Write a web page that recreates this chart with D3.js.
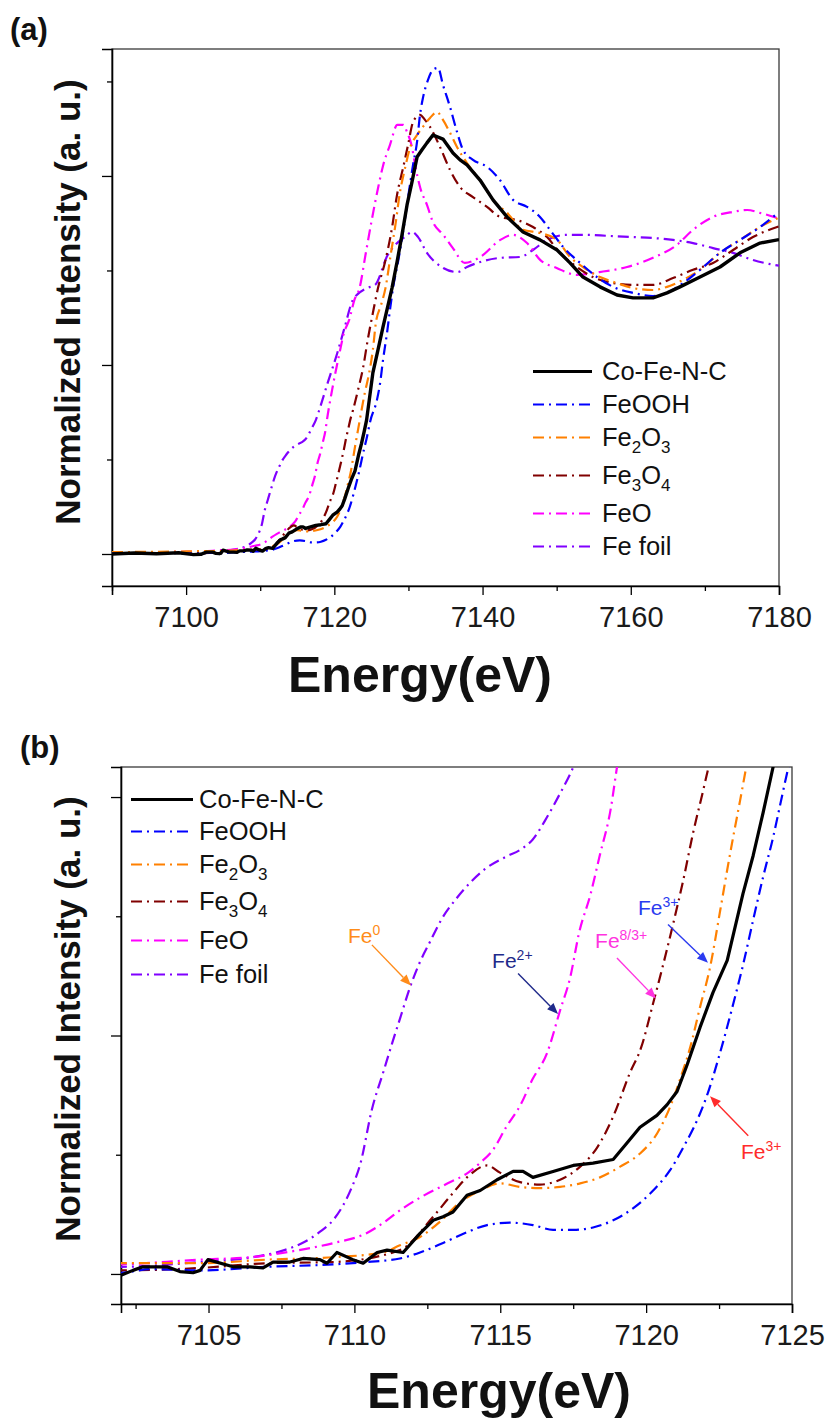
<!DOCTYPE html>
<html>
<head>
<meta charset="utf-8">
<script src="https://cdn.jsdelivr.net/npm/d3@7"></script>
<style>
  html, body { margin: 0; padding: 0; background: #fff; }
  svg { display: block; font-family: "Liberation Sans", Arial, Helvetica, sans-serif; }
</style>
</head>
<body>
<svg id="fig" width="831" height="1420"></svg>
<script>
// ---------- Fe K-edge XANES spectra: [energy (eV), normalized intensity] ----------
const coFeNC = [
  [7090,0.000],[7093,0.003],[7096,0.001],[7099,0.004],[7101,-0.002],
  [7102.00,-0.001],[7102.41,0.003],[7102.75,0.006],[7103.58,0.006],[7104.02,0.002],[7104.47,0.001],
  [7104.71,0.003],[7104.98,0.012],[7105.84,0.006],[7106.42,0.006],[7106.87,0.005],[7107.21,0.010],
  [7107.79,0.010],[7108.24,0.013],[7108.82,0.012],[7109.06,0.009],[7109.40,0.018],[7109.95,0.012],
  [7110.30,0.009],[7110.78,0.018],[7111.12,0.020],[7111.67,0.018],[7112.25,0.034],[7112.70,0.045],
  [7113.04,0.048],[7113.38,0.052],[7113.86,0.066],[7114.31,0.070],[7114.89,0.079],[7115.44,0.086],
  [7115.78,0.086],[7116.12,0.081],[7116.81,0.086],[7117.50,0.091],[7118.18,0.093],[7118.87,0.096],
  [7119.35,0.110],[7119.79,0.123],[7120.37,0.133],[7120.72,0.142],[7121.06,0.153],[7121.40,0.175],
  [7121.85,0.207],[7122.29,0.236],[7122.78,0.263],[7123.32,0.319],[7123.67,0.351],[7124.01,0.387],
  [7124.35,0.425],[7125.20,0.575],[7125.89,0.648],[7126.57,0.721],[7127.78,0.844],[7128.46,0.927],
  [7129.13,1.013],[7129.81,1.108],[7130.48,1.181],[7131.16,1.260],[7131.83,1.283],[7132.50,1.305],
  [7133.31,1.330],[7134.66,1.317],[7136.01,1.273],[7136.96,1.251],[7137.90,1.235],[7139.66,1.187],
  [7141.41,1.124],[7143.30,1.070],[7145.46,1.022],[7147.75,0.997],[7150.05,0.965],[7151.80,0.924],
  [7153.55,0.879],[7155.85,0.848],[7158.14,0.822],[7160.30,0.813],[7163.00,0.813],[7164.89,0.829],
  [7166.64,0.848],[7169.34,0.879],[7172.04,0.911],[7174.74,0.956],[7177.44,0.987],[7180.00,0.998]
];

const feOOH = [
  [7090,0.002],[7096,0.003],[7100,0.002],
  [7102.00,0.001],[7102.99,0.004],[7104.71,0.003],[7107.00,0.006],[7109.27,0.008],[7110.43,0.010],
  [7111.56,0.013],[7112.25,0.018],[7113.04,0.026],[7113.86,0.035],[7114.55,0.041],[7115.34,0.043],
  [7116.12,0.041],[7116.81,0.037],[7117.50,0.037],[7118.18,0.039],[7118.87,0.045],[7119.55,0.055],
  [7120.24,0.070],[7120.82,0.087],[7121.27,0.106],[7121.75,0.129],[7122.09,0.150],[7122.54,0.186],
  [7122.98,0.226],[7123.32,0.259],[7123.67,0.297],[7124.01,0.333],[7124.35,0.366],[7124.59,0.393],
  [7124.83,0.420],[7125.76,0.490],[7126.16,0.540],[7126.57,0.616],[7127.11,0.702],[7127.51,0.775],
  [7127.92,0.844],[7128.59,0.927],[7129.27,1.022],[7129.94,1.130],[7130.62,1.235],[7131.16,1.308],
  [7131.56,1.394],[7131.96,1.448],[7132.64,1.505],[7133.31,1.537],[7133.99,1.543],[7134.66,1.489],
  [7135.61,1.419],[7136.55,1.340],[7137.36,1.283],[7138.71,1.251],[7140.60,1.229],[7142.35,1.187],
  [7144.11,1.124],[7146.00,1.102],[7147.75,1.070],[7149.10,1.029],[7150.86,0.975],[7153.15,0.924],
  [7155.44,0.879],[7157.60,0.848],[7160.30,0.829],[7163.00,0.819],[7164.89,0.829],[7167.05,0.860],
  [7169.34,0.902],[7172.04,0.956],[7174.74,0.997],[7177.44,1.038],[7180.00,1.085]
];

const fe2O3 = [
  [7090,0.006],[7096,0.007],[7100,0.008],
  [7102.00,0.009],[7104.71,0.009],[7107.00,0.012],[7109.27,0.014],[7110.98,0.018],[7111.56,0.024],
  [7112.25,0.031],[7112.94,0.044],[7113.62,0.060],[7114.31,0.070],[7114.99,0.076],[7115.68,0.073],
  [7116.36,0.072],[7117.05,0.073],[7117.74,0.076],[7118.42,0.081],[7119.11,0.090],[7119.79,0.101],
  [7120.38,0.118],[7120.82,0.140],[7121.16,0.163],[7121.51,0.190],[7121.85,0.224],[7122.19,0.257],
  [7122.54,0.305],[7122.78,0.339],[7122.98,0.366],[7123.22,0.397],[7123.43,0.425],[7124.10,0.510],
  [7124.70,0.575],[7125.20,0.648],[7125.60,0.733],[7126.30,0.790],[7126.90,0.844],[7127.60,0.949],
  [7128.30,1.054],[7128.80,1.140],[7129.54,1.225],[7130.21,1.289],[7131.16,1.330],[7131.96,1.356],
  [7132.91,1.384],[7133.85,1.403],[7134.66,1.378],[7135.61,1.337],[7136.55,1.292],[7137.90,1.241],
  [7139.66,1.187],[7141.41,1.124],[7143.30,1.083],[7145.46,1.029],[7147.75,1.019],[7150.05,0.997],
  [7151.80,0.943],[7153.55,0.911],[7155.85,0.879],[7158.14,0.860],[7160.30,0.844],[7163.00,0.838],
  [7164.89,0.848],[7167.05,0.870],[7169.34,0.902],[7172.04,0.956],[7174.74,0.997],[7177.44,1.038],
  [7180.00,1.068]
];

const fe3O4 = [
  [7090,0.003],[7096,0.004],[7100,0.003],
  [7102.00,0.003],[7104.71,0.005],[7107.00,0.009],[7109.27,0.010],[7111.56,0.020],[7112.70,0.048],
  [7113.28,0.065],[7113.86,0.081],[7114.55,0.091],[7114.99,0.085],[7115.68,0.077],[7116.36,0.075],
  [7117.05,0.079],[7117.74,0.090],[7118.32,0.106],[7118.87,0.132],[7119.45,0.169],[7119.83,0.190],
  [7120.24,0.227],[7120.58,0.259],[7120.92,0.293],[7121.27,0.330],[7121.61,0.370],[7121.95,0.405],
  [7122.12,0.423],[7122.50,0.455],[7123.20,0.521],[7123.90,0.594],[7124.50,0.679],[7125.20,0.765],
  [7125.89,0.844],[7126.84,0.927],[7127.78,1.035],[7128.46,1.140],[7129.27,1.225],[7129.94,1.298],
  [7130.62,1.371],[7131.56,1.394],[7132.23,1.378],[7132.91,1.356],[7134.26,1.292],[7135.61,1.219],
  [7136.96,1.165],[7138.71,1.133],[7140.60,1.102],[7142.35,1.070],[7144.65,1.060],[7146.81,1.038],
  [7148.70,1.006],[7150.45,0.956],[7152.74,0.911],[7154.90,0.879],[7157.60,0.860],[7160.30,0.854],
  [7163.00,0.854],[7165.70,0.876],[7168.40,0.902],[7171.10,0.924],[7173.80,0.965],[7176.49,1.006],
  [7180.00,1.040]
];

const feO = [
  [7090,0.004],[7096,0.006],[7100,0.007],
  [7102.0,0.008],[7104.7,0.012],[7106.4,0.014],[7108.1,0.020],[7109.3,0.026],[7110.4,0.034],
  [7111.0,0.043],[7111.6,0.054],[7112.25,0.064],[7113.2,0.076],[7113.9,0.085],[7114.3,0.093],
  [7114.75,0.104],[7115.2,0.123],[7115.7,0.142],[7116.1,0.163],[7116.6,0.185],[7117.05,0.221],
  [7117.4,0.249],[7117.7,0.286],[7118.1,0.319],[7118.4,0.350],[7118.8,0.392],[7119.0,0.425],
  [7119.7,0.521],[7120.7,0.638],[7121.3,0.702],[7122.0,0.743],[7122.7,0.806],[7123.4,0.844],
  [7124.2,0.949],[7125.0,1.054],[7125.9,1.162],[7126.6,1.235],[7127.5,1.298],[7128.5,1.362],
  [7129.3,1.362],[7129.8,1.340],[7130.5,1.289],[7130.9,1.235],[7131.6,1.162],[7132.5,1.108],
  [7133.3,1.054],[7134.7,1.013],[7136.0,0.971],[7137.6,0.924],[7139.7,0.943],[7142.4,0.997],
  [7144.1,1.013],[7146.0,0.987],[7147.8,0.933],[7150.0,0.908],[7152.7,0.886],[7155.8,0.895],
  [7159.5,0.911],[7163.0,0.940],[7166.2,0.981],[7168.4,1.029],[7171.1,1.070],[7173.8,1.086],
  [7175.7,1.092],[7177.4,1.083],[7180.0,1.065]
];

const feFoil = [
  [7090,0.004],[7096,0.005],[7100,0.006],
  [7102.0,0.006],[7104.7,0.010],[7106.5,0.014],[7107.6,0.020],[7108.3,0.027],[7108.8,0.035],
  [7109.3,0.046],[7109.6,0.057],[7109.9,0.072],[7110.2,0.092],[7110.6,0.138],[7111.0,0.170],
  [7111.3,0.194],[7111.6,0.217],[7111.9,0.240],[7112.2,0.259],[7112.6,0.279],[7113.0,0.298],
  [7113.5,0.315],[7114.0,0.329],[7114.5,0.340],[7115.2,0.350],[7115.7,0.356],[7116.1,0.364],
  [7116.6,0.383],[7117.05,0.403],[7117.5,0.425],[7118.1,0.467],[7119.1,0.543],[7120.4,0.638],
  [7121.4,0.720],[7122.5,0.806],[7124.4,0.844],[7125.5,0.854],[7127.2,0.949],[7128.2,0.981],
  [7129.5,1.006],[7130.5,1.022],[7131.3,1.006],[7132.5,0.956],[7134.7,0.908],[7136.6,0.895],
  [7137.9,0.911],[7139.7,0.927],[7142.4,0.940],[7145.1,0.943],[7146.8,0.965],[7148.7,0.997],
  [7151.4,1.013],[7154.1,1.013],[7156.8,1.010],[7160.3,1.006],[7163.0,1.003],[7165.7,0.997],
  [7168.4,0.987],[7171.1,0.971],[7173.8,0.956],[7176.5,0.933],[7180.0,0.915]
];

// ---------- series, legend labels (subscripts flagged with 1), colours ----------
const seriesData   = [coFeNC, feOOH, fe2O3, fe3O4, feO, feFoil];
const seriesLabels = [
  [["Co-Fe-N-C",0]],
  [["FeOOH",0]],
  [["Fe",0],["2",1],["O",0],["3",1]],
  [["Fe",0],["3",1],["O",0],["4",1]],
  [["FeO",0]],
  [["Fe foil",0]]
];
const seriesColors = ["#000000", "#0000FF", "#FF8000", "#800000", "#FF00FF", "#8000FF"];

// ---------- axis ticks ----------
const xMajorA = [7100, 7120, 7140, 7160, 7180];
const xMinorA = [7090, 7110, 7130, 7150, 7170];
const yMajorA = [0, 0.6, 1.2];
const yMinorA = [0.3, 0.9, 1.5];
const xMajorB = [7105, 7110, 7115, 7120, 7125];
const xMinorB = [7102.5, 7107.5, 7112.5, 7117.5, 7122.5];
const yMajorB = [0, 0.2, 0.4];
const yMinorB = [0.1, 0.3];

// ---------- oxidation-state callouts on the pre-edge panel ----------
const calloutText  = ["Fe", "Fe", "Fe", "Fe", "Fe"];
const calloutSup   = ["0", "2+", "8/3+", "3+", "3+"];
const calloutColor = ["#FF8C1A", "#1F2A8A", "#FF33E0", "#2B3BF0", "#FF2B2B"];
const calloutAt    = [[7109.78,0.278],[7114.72,0.257],[7118.25,0.273],[7119.72,0.301],[7123.25,0.096]];
const calloutFrom  = [[7110.60,0.276],[7115.61,0.252],[7119.00,0.265],[7120.75,0.293],[7123.50,0.116]];
const calloutTo    = [[7111.94,0.242],[7116.98,0.218],[7120.34,0.231],[7122.12,0.261],[7122.19,0.149]];

// ---------- figure ----------
const svg = d3.select("#fig");
const DASH = "11,5,2,5";

function drawPanel(p) {
  const g = svg.append("g");
  const [x0, x1] = p.x.range();
  const [yb, yt] = p.y.range();

  // clip region for the spectra
  const clipId = "clip-" + p.id;
  svg.append("defs").append("clipPath").attr("id", clipId)
    .append("rect").attr("x", x0).attr("y", yt).attr("width", x1 - x0).attr("height", yb - yt);

  // frame
  g.append("rect").attr("x", x0).attr("y", yt).attr("width", x1 - x0).attr("height", yb - yt)
    .attr("fill", "none").attr("stroke", "#3a3a3a").attr("stroke-width", 1.3);

  // x axis: minor then major (labelled) ticks
  g.append("g").attr("transform", `translate(0,${yb})`)
    .call(d3.axisBottom(p.x).tickValues(p.xMinor).tickSize(5).tickFormat(""))
    .call(s => s.select(".domain").remove());
  const xa = g.append("g").attr("transform", `translate(0,${yb})`)
    .call(d3.axisBottom(p.x).tickValues(p.xMajor).tickSize(9).tickPadding(11).tickFormat(d3.format("d")));
  xa.select(".domain").attr("stroke-width", 1.6);
  xa.selectAll("text").attr("font-size", 29).attr("fill", "#1a1a1a")
    .attr("font-family", "'Liberation Sans', Arial, sans-serif");
  g.selectAll(".tick line").attr("stroke-width", 1.3);

  // y axis (unlabelled ticks)
  g.append("g").attr("transform", `translate(${x0},0)`)
    .call(d3.axisLeft(p.y).tickValues(p.yMinor).tickSize(5).tickFormat(""))
    .call(s => s.select(".domain").remove());
  const ya = g.append("g").attr("transform", `translate(${x0},0)`)
    .call(d3.axisLeft(p.y).tickValues(p.yMajor).tickSize(10).tickFormat(""));
  ya.select(".domain").attr("stroke-width", 1.6);
  g.selectAll(".tick line").attr("stroke-width", 1.3);

  // spectra: references first, sample on top
  const line = d3.line().x(d => p.x(d[0])).y(d => p.y(d[1]));
  const curves = g.append("g").attr("clip-path", `url(#${clipId})`);
  const order = [5, 4, 3, 2, 1, 0];
  order.forEach(i => {
    curves.append("path")
      .datum(seriesData[i])
      .attr("d", line.curve(i === 0 ? d3.curveLinear : d3.curveMonotoneX))
      .attr("fill", "none")
      .attr("stroke", seriesColors[i])
      .attr("stroke-width", i === 0 ? p.sampleWidth : 2.2)
      .attr("stroke-dasharray", i === 0 ? null : DASH)
      .attr("stroke-linejoin", "round");
  });

  // legend
  const lg = g.append("g");
  seriesLabels.forEach((parts, i) => {
    const base = p.legend.baselines[i];
    lg.append("line")
      .attr("x1", p.legend.x1).attr("x2", p.legend.x2)
      .attr("y1", base - 8.5).attr("y2", base - 8.5)
      .attr("stroke", seriesColors[i])
      .attr("stroke-width", i === 0 ? 3.2 : 2.2)
      .attr("stroke-dasharray", i === 0 ? null : DASH);
    const t = lg.append("text").attr("x", p.legend.tx).attr("y", base)
      .attr("font-size", 25.5).attr("fill", "#111");
    let shifted = false;
    parts.forEach(([s, sub]) => {
      const ts = t.append("tspan").text(s);
      if (sub && !shifted) { ts.attr("dy", 7).attr("font-size", 17); shifted = true; }
      else if (sub) { ts.attr("font-size", 17); }
      else if (shifted) { ts.attr("dy", -7); shifted = false; }
    });
  });

  // axis titles and panel tag
  g.append("text").attr("x", p.xTitle[0]).attr("y", p.xTitle[1])
    .attr("text-anchor", "middle").attr("font-size", 50).attr("font-weight", "bold")
    .attr("fill", "#111").text("Energy(eV)");
  g.append("text")
    .attr("transform", `translate(${p.yTitle[0]},${p.yTitle[1]}) rotate(-90)`)
    .attr("text-anchor", "middle").attr("font-size", 35).attr("font-weight", "bold")
    .attr("fill", "#111").text("Normalized Intensity (a. u.)");
  g.append("text").attr("x", p.tag[0]).attr("y", p.tag[1])
    .attr("font-size", 31).attr("font-weight", "bold").attr("fill", "#111").text(p.tagText);

  return g;
}

const xA = d3.scaleLinear().domain([7090, 7180]).range([112, 779]);
const yA = d3.scaleLinear().domain([-0.1016, 1.603]).range([586, 49]);
const xB = d3.scaleLinear().domain([7102, 7125]).range([121, 792]);
const yB = d3.scaleLinear().domain([-0.0252, 0.4252]).range([1304, 767]);

drawPanel({
  id: "a", x: xA, y: yA, xMajor: xMajorA, xMinor: xMinorA, yMajor: yMajorA, yMinor: yMinorA,
  sampleWidth: 3.4,
  legend: { x1: 533, x2: 592, tx: 602, baselines: [380, 413, 446, 484, 522, 555] },
  xTitle: [420, 692], yTitle: [80, 302], tag: [10, 40], tagText: "(a)"
});

const gB = drawPanel({
  id: "b", x: xB, y: yB, xMajor: xMajorB, xMinor: xMinorB, yMajor: yMajorB, yMinor: yMinorB,
  sampleWidth: 3.2,
  legend: { x1: 131, x2: 193, tx: 199, baselines: [808, 840, 873, 910, 949, 983] },
  xTitle: [499, 1408], yTitle: [80, 1019], tag: [20, 758], tagText: "(b)"
});

// callouts with arrows
calloutText.forEach((txt, i) => {
  const c = calloutColor[i];
  const t = gB.append("text")
    .attr("x", xB(calloutAt[i][0])).attr("y", yB(calloutAt[i][1]))
    .attr("font-size", 21).attr("fill", c);
  t.append("tspan").text(txt);
  t.append("tspan").text(calloutSup[i]).attr("font-size", 14).attr("dy", -8);

  const fx = xB(calloutFrom[i][0]), fy = yB(calloutFrom[i][1]);
  const tx = xB(calloutTo[i][0]),   ty = yB(calloutTo[i][1]);
  const ang = Math.atan2(ty - fy, tx - fx);
  const head = 11, half = 4.5;
  const bx = tx - head * Math.cos(ang), by = ty - head * Math.sin(ang);
  gB.append("line").attr("x1", fx).attr("y1", fy).attr("x2", bx).attr("y2", by)
    .attr("stroke", c).attr("stroke-width", 1.4);
  const pts = [
    [tx, ty],
    [bx + half * Math.sin(ang), by - half * Math.cos(ang)],
    [bx - half * Math.sin(ang), by + half * Math.cos(ang)]
  ];
  gB.append("polygon").attr("points", pts.map(q => q.join(",")).join(" ")).attr("fill", c);
});
</script>
</body>
</html>
